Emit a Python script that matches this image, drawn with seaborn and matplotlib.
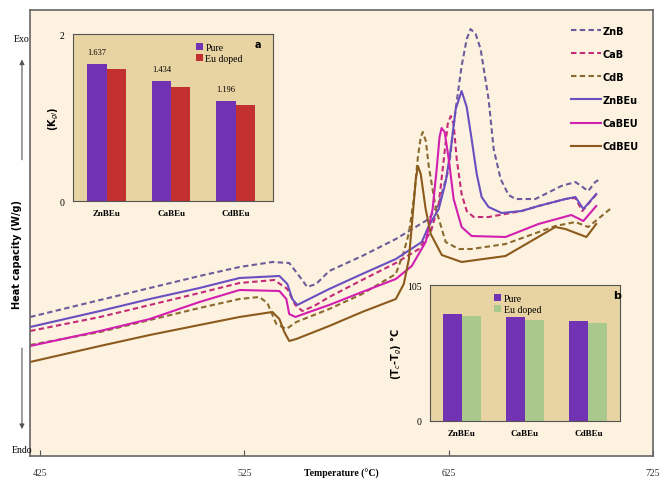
import pandas as pd
import numpy as np
import matplotlib
matplotlib.use('Agg')
import matplotlib.pyplot as plt
import seaborn as sns

# DSC traces (temperature in C, heat flow in arbitrary W/g units)
zn_b_t = [420.1, 454.3, 478.7, 503.0, 522.6, 538.7, 546.9, 551.8, 555.7, 560.1, 566.5, 582.6, 599.1, 615.2,
          620.1, 625.0, 628.4, 631.3, 633.8, 635.7, 638.2, 640.6, 644.5, 647.0, 650.4, 654.3, 657.7, 667.4,
          680.1, 687.0, 693.3, 696.7, 699.1]
zn_b_v = [1.39, 1.56, 1.68, 1.80, 1.89, 1.94, 1.93, 1.80, 1.69, 1.72, 1.85, 2.00, 2.17, 2.37,
          2.52, 2.87, 3.47, 3.90, 4.17, 4.27, 4.22, 4.07, 3.57, 3.07, 2.77, 2.61, 2.57, 2.57,
          2.70, 2.74, 2.65, 2.74, 2.77]

ca_b_t = [420.1, 454.3, 478.7, 503.0, 522.6, 539.6, 546.0, 549.9, 553.3, 559.1, 566.5, 582.6, 599.1, 610.4,
          616.2, 620.1, 622.6, 624.5, 626.0, 627.4, 628.9, 631.3, 633.8, 637.2, 644.5, 660.6, 668.9,
          682.1, 687.0, 690.4, 698.2]
ca_b_v = [1.25, 1.39, 1.51, 1.63, 1.73, 1.76, 1.67, 1.51, 1.45, 1.50, 1.59, 1.76, 1.93, 2.07,
          2.24, 2.52, 2.97, 3.32, 3.40, 3.32, 2.97, 2.62, 2.45, 2.39, 2.39, 2.45, 2.50,
          2.57, 2.58, 2.45, 2.64]

cd_b_t = [420.1, 454.3, 478.7, 503.0, 522.6, 532.3, 536.2, 540.6, 545.5, 550.4, 566.5, 582.6, 599.1, 603.0,
          605.5, 607.9, 609.9, 611.3, 612.3, 613.8, 615.2, 618.7, 623.5, 629.9, 636.2, 652.8, 677.2,
          687.0, 693.3, 704.0]
cd_b_v = [1.11, 1.24, 1.36, 1.48, 1.57, 1.59, 1.53, 1.32, 1.27, 1.34, 1.47, 1.62, 1.82, 2.04,
          2.23, 2.57, 2.99, 3.19, 3.24, 3.15, 2.90, 2.47, 2.14, 2.07, 2.07, 2.12, 2.30,
          2.34, 2.29, 2.47]

zn_beu_t = [420.1, 454.3, 478.7, 503.0, 522.6, 542.1, 546.0, 548.4, 550.9, 556.7, 566.5, 582.6, 599.1, 611.8,
            615.2, 620.1, 623.5, 626.0, 628.4, 631.3, 633.8, 636.2, 638.7, 641.1, 644.5, 650.9, 660.6,
            668.9, 682.1, 687.0, 690.9, 697.2]
zn_beu_v = [1.29, 1.45, 1.57, 1.68, 1.78, 1.80, 1.72, 1.57, 1.51, 1.57, 1.67, 1.82, 1.97, 2.14,
            2.30, 2.47, 2.74, 3.07, 3.47, 3.65, 3.49, 3.17, 2.82, 2.59, 2.49, 2.43, 2.45,
            2.50, 2.57, 2.59, 2.47, 2.62]

ca_beu_t = [420.1, 454.3, 478.7, 503.0, 522.6, 542.1, 545.5, 546.9, 549.9, 556.7, 566.5, 582.6, 599.1, 606.9,
            613.7, 617.1, 619.1, 620.5, 621.5, 623.0, 625.0, 627.4, 631.3, 636.2, 652.8, 668.9, 685.0,
            690.9, 697.2]
ca_beu_v = [1.10, 1.25, 1.37, 1.54, 1.66, 1.65, 1.57, 1.42, 1.39, 1.44, 1.51, 1.64, 1.77, 1.90,
            2.14, 2.47, 2.87, 3.19, 3.28, 3.24, 2.97, 2.57, 2.29, 2.20, 2.19, 2.32, 2.41,
            2.35, 2.50]

cd_beu_t = [420.1, 454.3, 478.7, 503.0, 522.6, 538.7, 542.1, 544.5, 546.9, 550.4, 566.5, 582.6, 599.1, 603.0,
            605.5, 607.4, 608.9, 609.9, 611.3, 613.7, 616.2, 621.6, 631.3, 652.8, 677.2, 682.1, 692.4, 697.2]
cd_beu_v = [0.94, 1.10, 1.21, 1.31, 1.39, 1.44, 1.37, 1.24, 1.15, 1.17, 1.30, 1.44, 1.57, 1.72,
            1.97, 2.42, 2.77, 2.90, 2.82, 2.47, 2.22, 2.01, 1.94, 2.00, 2.29, 2.27, 2.19, 2.32]

series = [
    ('ZnB', zn_b_t, zn_b_v, '#6c5c9c', '--'),
    ('CaB', ca_b_t, ca_b_v, '#c42a78', '--'),
    ('CdB', cd_b_t, cd_b_v, '#8a6a2e', '--'),
    ('ZnBEu', zn_beu_t, zn_beu_v, '#6a4fc0', '-'),
    ('CaBEU', ca_beu_t, ca_beu_v, '#d21fb0', '-'),
    ('CdBEU', cd_beu_t, cd_beu_v, '#8b5a1c', '-'),
]

# inset data
glasses = ['ZnBEu', 'CaBEu', 'CdBEu']
kgl_pure = [1.637, 1.434, 1.196]
kgl_eu = [1.58, 1.365, 1.15]
dt_pure = [82.6, 80.3, 77.2]
dt_eu = [81.1, 78.0, 75.7]
xticks = [425, 525, 625, 725]

fig = plt.figure(figsize=(6.66, 4.81), dpi=100)
fig.patch.set_facecolor('white')

ax = fig.add_axes([0.045, 0.05, 0.9355, 0.927])
ax.set_facecolor('#fcf2df')
for name, t, v, c, ls in series:
    sns.lineplot(x=t, y=v, ax=ax, color=c, linestyle=ls, linewidth=1.5, label=name,
                 dashes=False) if ls == '-' else \
        sns.lineplot(x=t, y=v, ax=ax, color=c, linewidth=1.5, label=name)
for line, (name, t, v, c, ls) in zip(ax.get_lines(), series):
    if ls == '--':
        line.set_dashes((2.6, 1.6))
ax.set_xlim(420, 724.5)
ax.set_ylim(0, 4.46)
ax.set_xticks(xticks)
ax.set_xticklabels([str(x) for x in xticks], fontsize=7, family='Liberation Serif', color='#333333')
ax.tick_params(axis='x', direction='in', length=4, pad=9, color='#555555')
ax.set_yticks([])
ax.set_xlabel('Temperature (°C)', fontsize=7, fontweight='bold', family='Liberation Serif', labelpad=-7)
ax.set_ylabel('')
for s in ax.spines.values():
    s.set_color('#666666')
    s.set_linewidth(1.2)
leg = ax.legend(loc='upper left', bbox_to_anchor=(0.855, 0.985), frameon=False,
                handlelength=3.0, labelspacing=1.35, handletextpad=0.2,
                prop={'family': 'Liberation Sans Narrow', 'weight': 'bold', 'size': 7})

# left annotations
fig.text(0.033, 0.917, 'Exo', fontsize=7, family='Liberation Serif', ha='center', va='center')
fig.text(0.033, 0.064, 'Endo', fontsize=7, family='Liberation Serif', ha='center', va='center')
fig.text(0.025, 0.47, 'Heat capacity (W/g)', fontsize=7, fontweight='bold', rotation=90,
         ha='center', va='center')
fig.patches.append(matplotlib.patches.FancyArrowPatch((0.033, 0.66), (0.033, 0.88), transform=fig.transFigure,
                   arrowstyle='-|>', mutation_scale=7, color='#555555', lw=0.8))
fig.patches.append(matplotlib.patches.FancyArrowPatch((0.033, 0.28), (0.033, 0.10), transform=fig.transFigure,
                   arrowstyle='-|>', mutation_scale=7, color='#555555', lw=0.8))

# inset a
df_a = pd.DataFrame({'glass': glasses * 2, 'val': kgl_pure + kgl_eu,
                     'kind': ['Pure'] * 3 + ['Eu doped'] * 3})
axa = fig.add_axes([0.1096, 0.58, 0.3003, 0.347])
axa.set_facecolor('#e8d3a2')
sns.barplot(data=df_a, x='glass', y='val', hue='kind', palette=['#7232b4', '#c23030'],
            width=0.6, ax=axa, saturation=1, edgecolor='none')
axa.bar_label(axa.containers[0], fmt='%.3f', padding=6, fontsize=6, family='Liberation Serif')
axa.set_xlim(-0.52, 2.58)
axa.set_ylim(0, 2)
axa.set_yticks([0, 2])
axa.set_yticklabels(['0', '2'], fontsize=7, family='Liberation Serif')
axa.tick_params(length=0, pad=6)
axa.set_xticks(range(3))
axa.set_xticklabels(glasses, fontsize=6.5, fontweight='bold', family='Liberation Serif')
axa.set_xlabel('')
axa.set_ylabel('(K$_{gl}$)', fontsize=7, fontweight='bold', labelpad=-1)
for s in axa.spines.values():
    s.set_color('#555555')
axa.legend(loc='upper left', bbox_to_anchor=(0.57, 1.0), frameon=False, fontsize=7,
           handlelength=0.7, handleheight=0.7, labelspacing=0.25, handletextpad=0.3,
           prop={'family': 'Liberation Serif', 'size': 7})
axa.text(0.925, 0.94, 'a', transform=axa.transAxes, fontsize=7, fontweight='bold', ha='center', va='center')

# inset b
df_b = pd.DataFrame({'glass': glasses * 2, 'val': dt_pure + dt_eu,
                     'kind': ['Pure'] * 3 + ['Eu doped'] * 3})
axb = fig.add_axes([0.6456, 0.1227, 0.2853, 0.2827])
axb.set_facecolor('#e8d3a2')
sns.barplot(data=df_b, x='glass', y='val', hue='kind', palette=['#7232b4', '#a9c98c'],
            width=0.6, ax=axb, saturation=1, edgecolor='none')
axb.set_xlim(-0.5, 2.5)
axb.set_ylim(0, 105)
axb.set_yticks([0, 105])
axb.set_yticklabels(['0', '105'], fontsize=7, family='Liberation Serif')
axb.tick_params(length=0, pad=6)
axb.set_xticks(range(3))
axb.set_xticklabels(glasses, fontsize=6.5, fontweight='bold', family='Liberation Serif')
axb.set_xlabel('')
axb.set_ylabel('(T$_c$-T$_g$) °C', fontsize=7, fontweight='bold', labelpad=2)
for s in axb.spines.values():
    s.set_color('#555555')
axb.legend(loc='upper left', bbox_to_anchor=(0.29, 1.0), frameon=False,
           handlelength=0.7, handleheight=0.7, labelspacing=0.25, handletextpad=0.3,
           prop={'family': 'Liberation Serif', 'size': 7})
axb.text(0.985, 0.93, 'b', transform=axb.transAxes, fontsize=8, fontweight='bold', ha='center', va='center')

fig.savefig('out.png', dpi=100, facecolor='white')
